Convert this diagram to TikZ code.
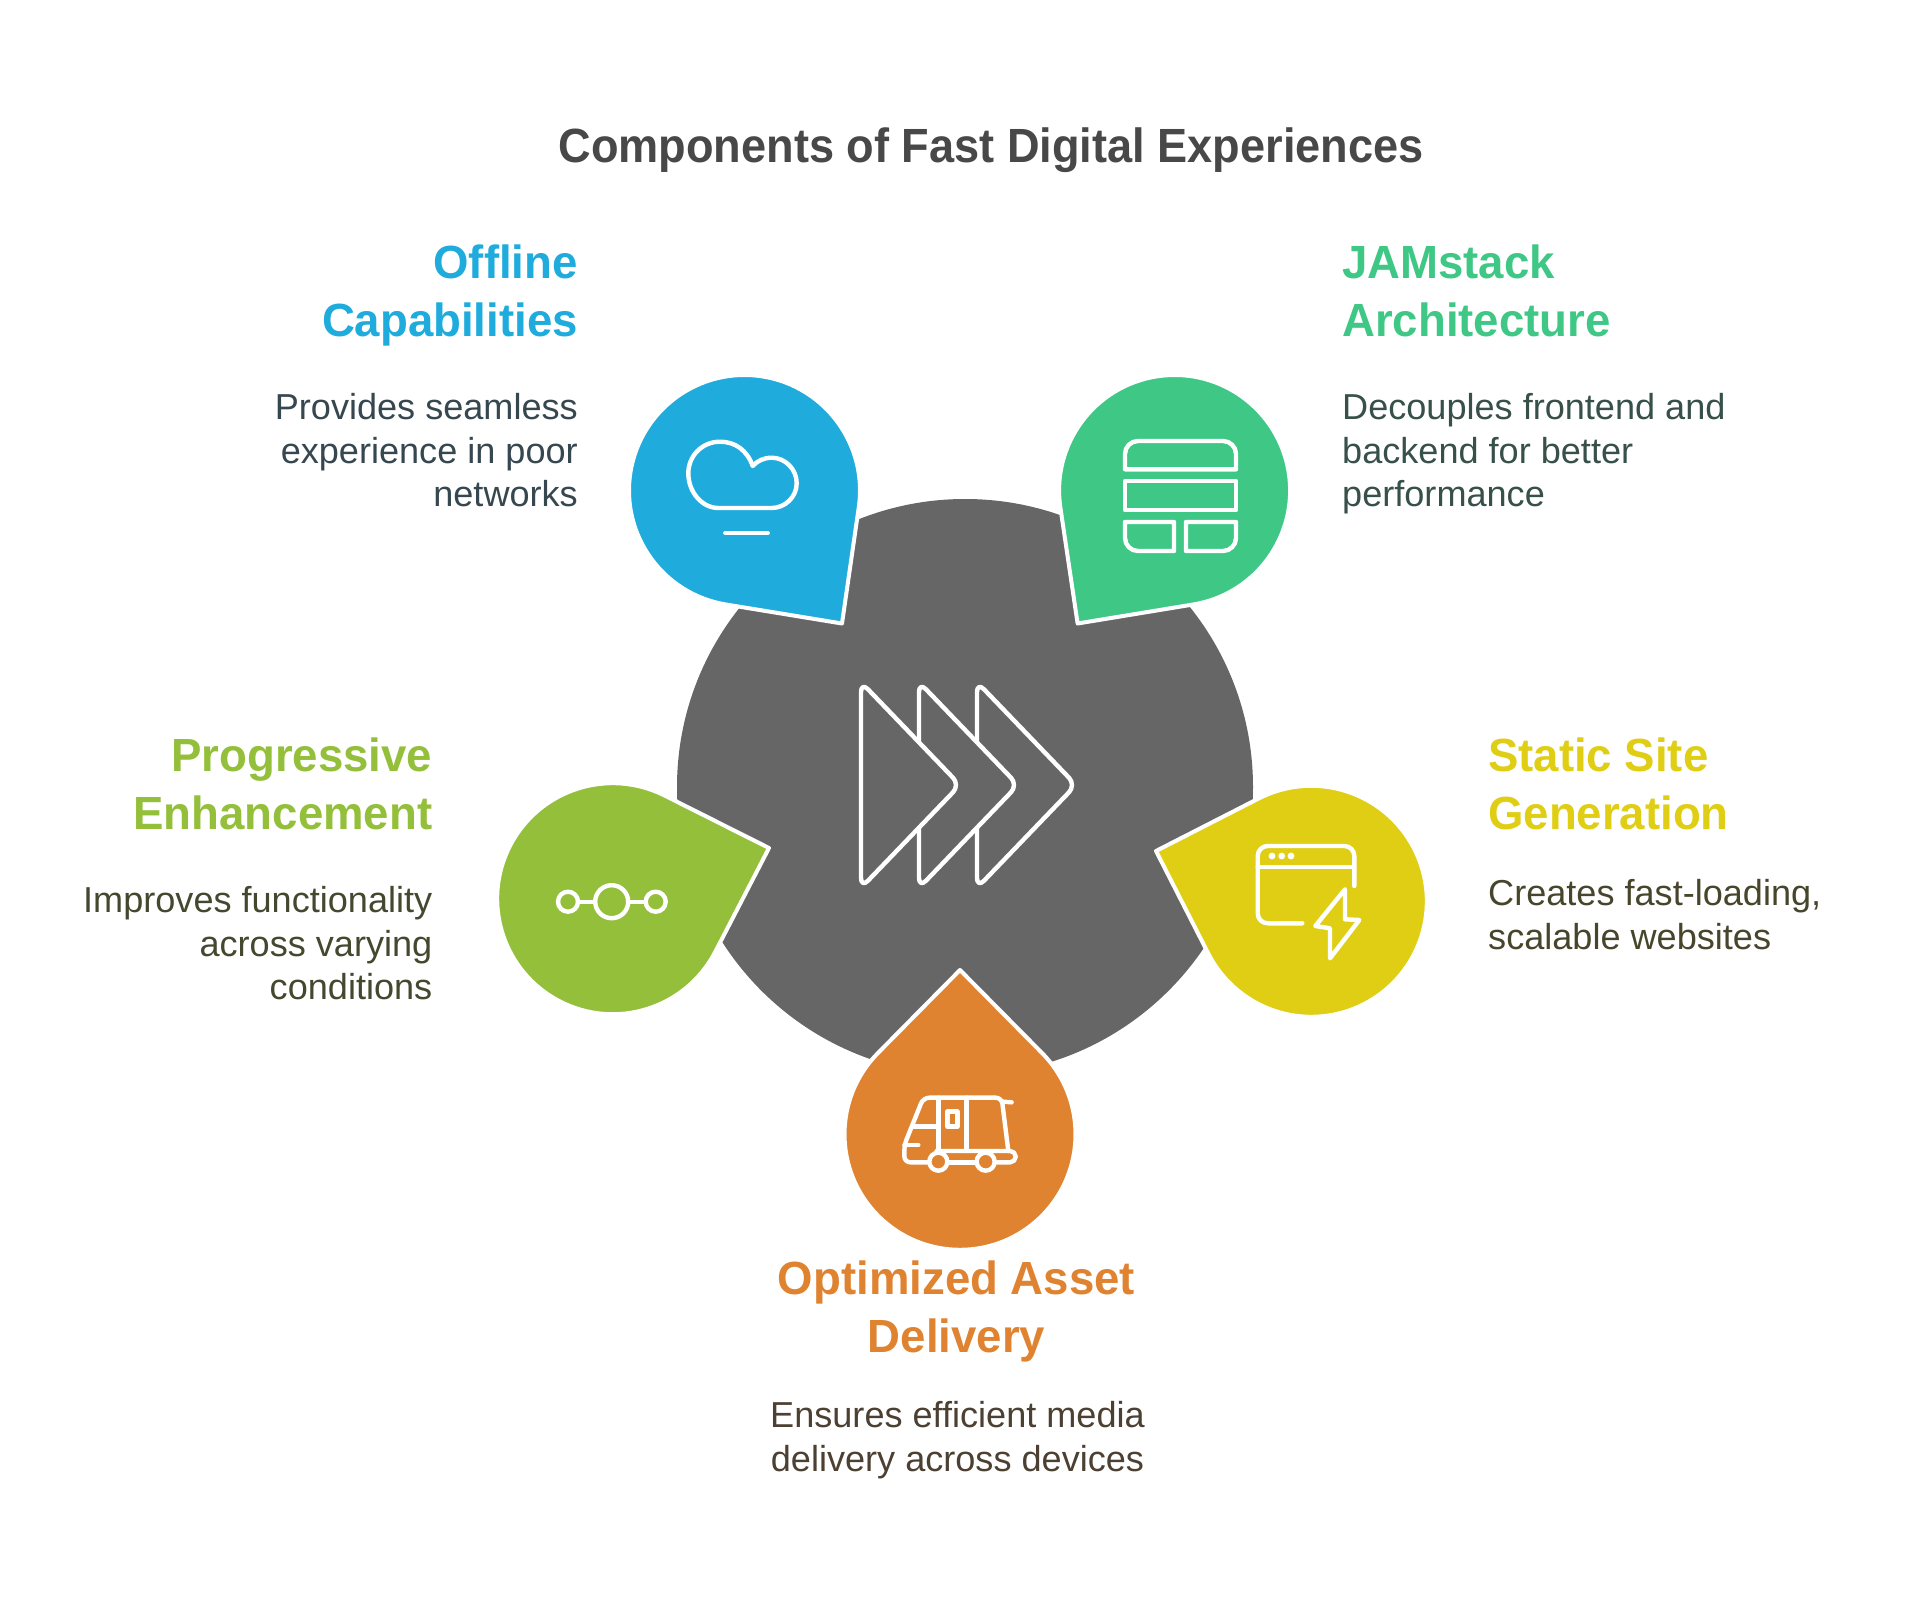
\documentclass[tikz,border=0pt]{standalone}
\usepackage{fontspec}
\setmainfont{Liberation Sans}
\newfontfamily\titlefont{Liberation Sans}[FakeStretch=0.94]
\newfontfamily\headfont{Liberation Sans}[FakeStretch=0.98]
\definecolor{hubgray}{HTML}{666666}
\definecolor{offlineblue}{HTML}{1FACDC}
\definecolor{jamgreen}{HTML}{3FC785}
\definecolor{proglime}{HTML}{94BF3A}
\definecolor{staticyellow}{HTML}{E0CE15}
\definecolor{assetorange}{HTML}{DF8331}
\definecolor{titlegray}{HTML}{484848}
\definecolor{offlineink}{HTML}{37474F}
\definecolor{jamink}{HTML}{37504A}
\definecolor{progink}{HTML}{43482F}
\definecolor{staticink}{HTML}{47452B}
\definecolor{assetink}{HTML}{4C4032}
\tikzset{
  petal/.style={draw=white,line width=4pt,line join=round},
  glyph/.style={draw=white,line width=4.4pt,line cap=round,line join=round},
  heading/.style={font=\fontsize{46.5}{58}\headfont\bfseries,inner sep=0pt},
  blurb/.style={font=\fontsize{36.1}{43.3}\selectfont,inner sep=0pt},
}
\begin{document}
\begin{tikzpicture}[x=1pt,y=-1pt]
\useasboundingbox (0,0) rectangle (1920,1602);
\fill[hubgray] (965,787) circle[radius=288];
\foreach \cx/\cy/\tipx/\tipy/\col in {744.5/490.5/842/623.5/offlineblue,1174.6/490.5/1077.6/623.5/jamgreen,612.7/898.7/769/848/proglime,1311.3/901.3/1156/851/staticyellow,960/1134.3/960/970/assetorange}{
	\pgfmathsetmacro{\ang}{atan2(\tipy-\cy,\tipx-\cx)}
	\pgfmathsetmacro{\off}{acos(115.5/veclen(\tipx-\cx,\tipy-\cy))}
	\pgfmathsetmacro{\sx}{\cx+115.5*cos(\ang+\off)}
	\pgfmathsetmacro{\sy}{\cy+115.5*sin(\ang+\off)}
	\draw[petal,fill=\col] (\tipx,\tipy) -- (\sx,\sy) arc[start angle=\ang+\off,end angle=\ang-\off+360,radius=115.5] -- cycle;}
\draw[glyph,rounded corners=10pt] (861,682) -- (960,785) -- (861,888) -- cycle;
\foreach \s in {58,116}{
	\draw[glyph,rounded corners=10pt] (861+\s,742.3) -- (861+\s,682) -- (960+\s,785) -- (861+\s,888) -- (861+\s,827.7);}
\draw[glyph] (752.7,466) .. controls (747,450) and (735,441.7) .. (720,441.7) .. controls (702,441.7) and (688.3,456) .. (688.3,473.3) .. controls (688.3,492) and (702,508) .. (718.3,508) -- (771.7,508) .. controls (785,508) and (796.7,497) .. (796.7,483.3) .. controls (796.7,469) and (785,457.7) .. (771.7,457.7) .. controls (764,457.7) and (757,461) .. (752.7,466) -- cycle;
\draw[glyph] (725.3,533) -- (767.7,533);
\draw[glyph] (1125,469.3) -- (1125,454) arc[start angle=180,end angle=270,radius=13] -- (1223,441) arc[start angle=270,end angle=360,radius=13] -- (1236,469.3) -- cycle;
\draw[glyph] (1125,481) rectangle (1236,510);
\draw[glyph] (1125,522) -- (1174,522) -- (1174,551) -- (1138,551) arc[start angle=90,end angle=180,radius=13] -- cycle;
\draw[glyph] (1186,522) -- (1236,522) -- (1236,538) arc[start angle=0,end angle=90,radius=13] -- (1186,551) -- cycle;
\foreach \x in {568,655.7}{
	\draw[glyph] (\x,901.7) circle[radius=10];}
\draw[glyph] (611.7,901.7) circle[radius=16.5];
\draw[glyph] (578,901.7) -- (595,901.7);
\draw[glyph] (628,901.7) -- (645.7,901.7);
\draw[glyph] (1354.3,886) -- (1354.3,856) arc[start angle=0,end angle=-90,radius=10] -- (1267.7,846) arc[start angle=270,end angle=180,radius=10] -- (1257.7,913.3) arc[start angle=180,end angle=90,radius=10] -- (1302.3,923.3);
\draw[glyph] (1257.7,866.7) -- (1354.3,866.7);
\foreach \x in {1272,1281.7,1291}{
	\fill[white] (\x,856) circle[radius=3.4];}
\draw[glyph] (1345,889.3) -- (1315.3,926) -- (1330,928.3) -- (1330,958.3) -- (1359.3,920) -- (1345,919.3) -- cycle;
\begin{scope}[shift={(895,1085)},x=0.3333pt,y=-0.3333pt]
\draw[glyph,rounded corners=6pt] (98,232) -- (28,232) -- (28,180) -- (85,38) -- (320,38) -- (340,198);
\draw[glyph,rounded corners=5.5pt] (125,198) -- (362,198) -- (362,232) -- (298,232);
\draw[glyph] (160,232) -- (240,232);
\draw[glyph] (325,50) -- (350,52);
\draw[glyph] (130,38) -- (130,198);
\draw[glyph] (215,38) -- (215,198);
\draw[glyph] (52,125) -- (130,125);
\draw[glyph] (28,180) -- (70,180);
\draw[glyph] (157,80) rectangle (187,125);
\foreach \x in {130,272}{
	\draw[glyph,fill=assetorange] (\x,230) circle[radius=27];}
\end{scope}
\node[anchor=base,inner sep=0pt,font=\fontsize{48}{58}\titlefont\bfseries,text=titlegray] (title) at (991,163) {Components of Fast Digital Experiences};
\node[heading,anchor=base east,align=right,text=offlineblue] (offlinehead) at (578,336.7) {Offline\\Capabilities};
\node[blurb,anchor=base east,align=right,text=offlineink] (offlinetext) at (578,506.5) {Provides seamless\\experience in poor\\networks};
\node[heading,anchor=base west,align=left,text=jamgreen] (jamhead) at (1342,336.7) {JAMstack\\Architecture};
\node[blurb,anchor=base west,align=left,text=jamink] (jamtext) at (1342,506.5) {Decouples frontend and\\backend for better\\performance};
\node[heading,anchor=base east,align=right,text=proglime] (proghead) at (432.5,829) {Progressive\\Enhancement};
\node[blurb,anchor=base east,align=right,text=progink] (progtext) at (432.5,999.5) {Improves functionality\\across varying\\conditions};
\node[heading,anchor=base west,align=left,text=staticyellow] (statichead) at (1488,829) {Static Site\\Generation};
\node[blurb,anchor=base west,align=left,text=staticink] (statictext) at (1488,949) {Creates fast-loading,\\scalable websites};
\node[heading,anchor=base,align=center,text=assetorange] (assethead) at (956.5,1352) {Optimized Asset\\Delivery};
\node[blurb,anchor=base,align=center,text=assetink] (assettext) at (957.5,1471) {Ensures efficient media\\delivery across devices};
\end{tikzpicture}
\end{document}
